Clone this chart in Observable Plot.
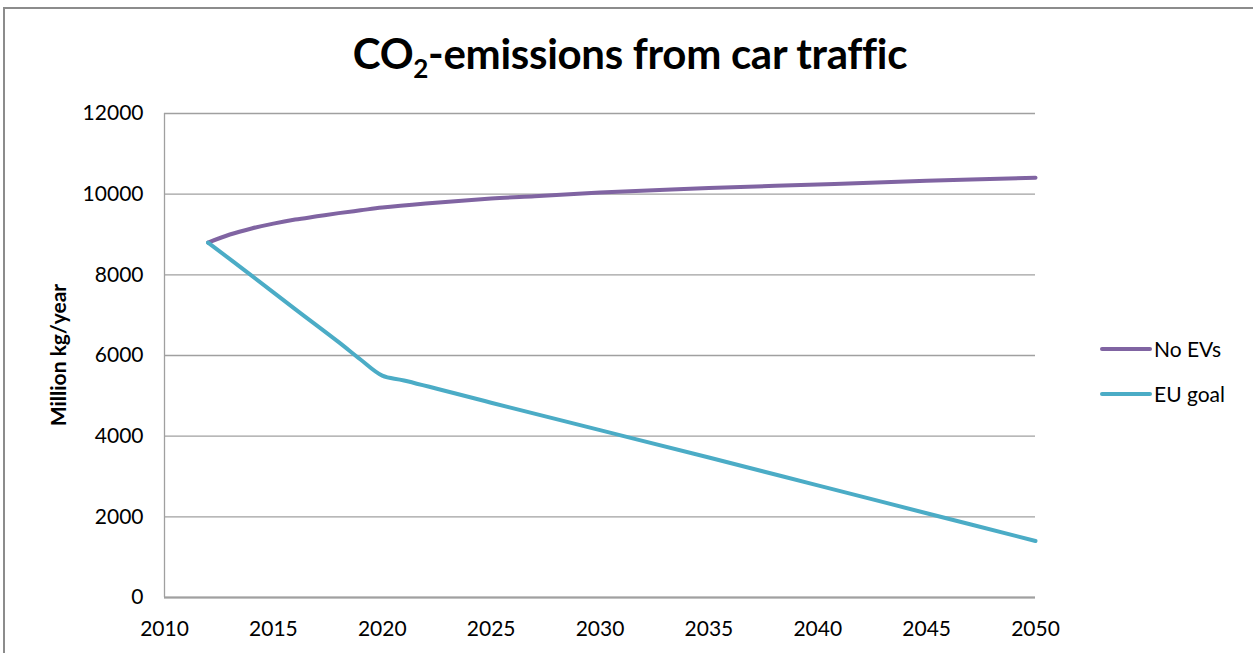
<!DOCTYPE html>
<html><head><meta charset="utf-8">
<script src="https://cdn.jsdelivr.net/npm/d3@7"></script>
<script src="https://cdn.jsdelivr.net/npm/@observablehq/plot@0.6"></script>
<style>
body{margin:0;background:#fff;font-family:Lato,"Open Sans",sans-serif;}
#wrap{position:relative;width:1253px;height:653px;overflow:hidden;}
#frame{position:absolute;left:3px;top:7px;width:1260px;height:660px;border:2px solid #8c8c8c;box-sizing:border-box;}
#title{position:absolute;left:0;width:1260px;top:28px;text-align:center;font-size:42px;font-weight:700;color:#000;letter-spacing:-0.3px;}
#title sub{font-size:26px;vertical-align:-9px;line-height:0;}
#ylab{position:absolute;left:57px;top:355px;transform:translate(-50%,-50%) rotate(-90deg);font-size:21px;font-weight:700;white-space:nowrap;color:#000;}
.leg{position:absolute;left:1100px;font-size:21px;color:#000;display:flex;align-items:center;}
.leg span.sw{display:inline-block;width:52px;height:4px;border-radius:2px;margin-right:2px;}
#chart{position:absolute;left:0;top:0;}
</style></head>
<body><div id="wrap"><div id="frame"></div><div id="chart"></div>
<div id="title">CO<sub>2</sub>-emissions from car traffic</div>
<div id="ylab">Million kg/year</div>
<div class="leg" style="top:336px"><span class="sw" style="background:#8064A2"></span>No EVs</div>
<div class="leg" style="top:381px"><span class="sw" style="background:#4BACC6"></span>EU goal</div>
</div>
<script>
const noEVYears = [2012,2013,2014,2015,2016,2017,2018,2019,2020,2022,2025,2027,2030,2035,2040,2045,2050];
const noEVValues = [8800,9000,9150,9270,9370,9450,9530,9600,9670,9770,9890,9950,10040,10150,10240,10330,10410];
const euYears = [2012,2014,2016,2018,2019,2020,2021,2025,2030,2035,2040,2045,2050];
const euValues = [8800,7980,7150,6330,5900,5500,5380,4830,4150,3470,2780,2090,1400];
const seriesNames = ["No EVs","EU goal"];
const seriesColors = ["#8064A2","#4BACC6"];
const xTicks = [2010,2015,2020,2025,2030,2035,2040,2045,2050];
const yTicks = [0,2000,4000,6000,8000,10000,12000];

const data = [
  ...noEVYears.map((y,i)=>({year:y,value:noEVValues[i],series:seriesNames[0]})),
  ...euYears.map((y,i)=>({year:y,value:euValues[i],series:seriesNames[1]}))
];

const plot = Plot.plot({
  width:1253, height:653,
  marginLeft:164, marginRight:218, marginTop:113, marginBottom:56,
  style:{fontFamily:"Lato, 'Open Sans', sans-serif", fontSize:"21px", color:"#000", background:"transparent"},
  x:{domain:[2010,2050]},
  y:{domain:[0,12000]},
  color:{domain:seriesNames, range:seriesColors},
  marks:[
    Plot.gridY(yTicks,{stroke:"#a0a0a0", strokeOpacity:1, strokeWidth:1.3}),
    Plot.ruleX([2010],{stroke:"#a0a0a0", strokeWidth:1.3}),
    Plot.ruleY([0],{stroke:"#a0a0a0", strokeWidth:2}),
    Plot.axisY(yTicks,{tickSize:0, tickPadding:21, label:null, tickFormat:d=>String(d), fontSize:21}),
    Plot.axisX(xTicks,{tickSize:0, tickPadding:24, label:null, tickFormat:d=>String(d), fontSize:21}),
    Plot.line(data,{x:"year", y:"value", z:"series", stroke:"series", strokeWidth:4, curve:"catmull-rom", strokeLinecap:"round"})
  ]
});
document.getElementById("chart").appendChild(plot);
</script></body></html>
